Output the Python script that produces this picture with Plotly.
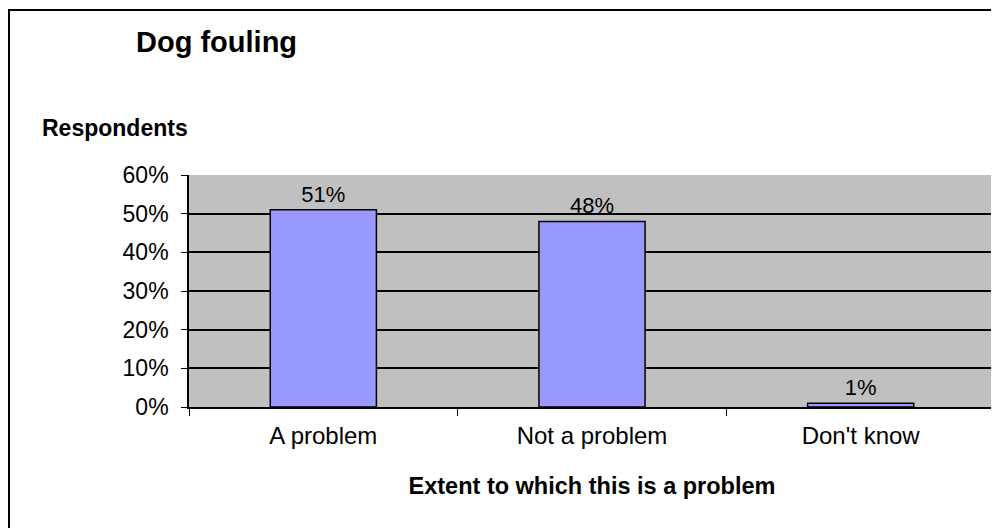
import plotly.graph_objects as go

categories = ["A problem", "Not a problem", "Don't know"]
shares = [0.51, 0.48, 0.01]
share_labels = ["51%", "48%", "1%"]

FONT = "Liberation Sans, Arial, sans-serif"

# page body adds an 8px offset, so figure is slightly smaller than the window
W, H = 991, 520

fig = go.Figure()
fig.add_trace(go.Bar(
    x=categories,
    y=shares,
    text=share_labels,
    textposition="outside",
    cliponaxis=False,
    textfont={"size": 22, "color": "black", "family": FONT},
    marker={"color": "#9999FF", "line": {"color": "black", "width": 1.5}},
    width=0.395,
))

fig.update_layout(
    width=W,
    height=H,
    margin={"l": 181, "r": 4, "t": 167, "b": 121},
    paper_bgcolor="white",
    plot_bgcolor="#C0C0C0",
    font={"family": FONT, "size": 22, "color": "black"},
    showlegend=False,
    title={
        "text": "<b>Dog fouling</b>",
        "font": {"size": 29, "family": FONT, "color": "black"},
        "xref": "container", "yref": "container",
        "x": (136 - 8) / W, "xanchor": "left",
        "y": 1 - (42 - 8) / H, "yanchor": "middle",
    },
    annotations=[{
        "text": "<b>Respondents</b>",
        "xref": "paper", "yref": "paper",
        "x": (40 - 189) / 806, "xanchor": "left",
        "y": (407 - 128) / 232, "yanchor": "middle",
        "showarrow": False,
        "font": {"size": 23, "family": FONT, "color": "black"},
    }],
    shapes=[{
        "type": "rect",
        "xref": "paper", "yref": "paper",
        "x0": (9 - 189) / 806, "x1": 1.2,
        "y0": -1.0, "y1": (407 - 10) / 232,
        "line": {"color": "black", "width": 2},
        "layer": "above",
    }],
)

fig.update_yaxes(
    range=[0, 0.6],
    dtick=0.1,
    tickformat=".0%",
    showgrid=True,
    gridcolor="black",
    gridwidth=1.6,
    showline=True,
    linecolor="black",
    linewidth=1.6,
    ticks="outside",
    ticklen=6,
    tickcolor="black",
    ticklabelstandoff=8,
    zeroline=False,
    tickfont={"size": 23},
)

fig.update_xaxes(
    showline=True,
    linecolor="black",
    linewidth=1.6,
    ticks="outside",
    tickson="boundaries",
    ticklen=7,
    tickcolor="black",
    showgrid=False,
    ticklabelstandoff=6,
    tickfont={"size": 24},
    title={
        "text": "<b>Extent to which this is a problem</b>",
        "font": {"size": 23.5},
        "standoff": 30,
    },
)

fig.write_html("out.html")
